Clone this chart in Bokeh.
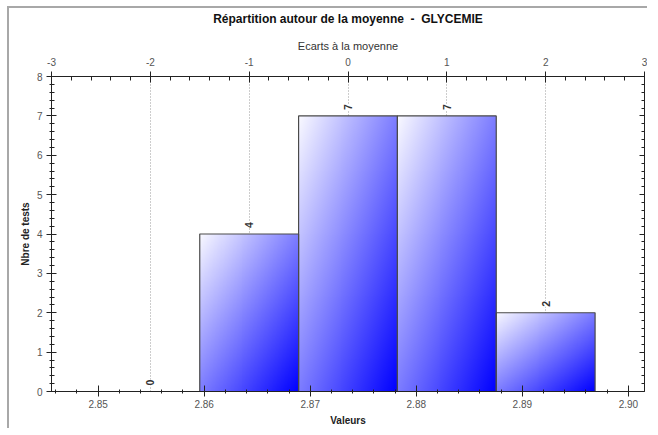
import numpy as np
from bokeh.plotting import figure
from bokeh.models import (Range1d, LinearAxis, Grid, FixedTicker,
                          ColumnDataSource, NumeralTickFormatter)
from bokeh.core.properties import value
from bokeh.embed import file_html
from bokeh.resources import INLINE

# ---- data ----
title_text = "Répartition autour de la moyenne \u00a0-\u00a0 GLYCEMIE"
sigma_k = [-2, -1, 0, 1, 2]          # écarts (en écarts-types)
counts = [0, 4, 7, 7, 2]             # nombre de tests
mean_val = 2.87356
sd_val = 0.00932
x_ticks = [2.85, 2.86, 2.87, 2.88, 2.89, 2.90]
sigma_ticks = [-3, -2, -1, 0, 1, 2, 3]
y_ticks = [0, 1, 2, 3, 4, 5, 6, 7, 8]

FONT = "Liberation Sans"
FW, FH = 593, 315

p = figure(frame_width=FW, frame_height=FH,
           x_range=Range1d(mean_val - 3 * sd_val, mean_val + 3 * sd_val),
           y_range=Range1d(0, 8),
           output_backend="svg", toolbar_location=None,
           x_axis_location=None, y_axis_location=None,
           min_border_left=42, min_border_right=3, min_border_top=40, min_border_bottom=34,
           title=title_text)
p.styles = {"border-left": "2px solid #a8a8a8", "border-top": "2px solid #a8a8a8",
            "margin-left": "7px", "margin-top": "6px"}
p.outline_line_color = None
p.background_fill_color = "white"
p.border_fill_color = "white"
p.extra_x_ranges = {"sigma": Range1d(-3, 3)}
# remove default grids
p.center = [r for r in p.center if not isinstance(r, Grid)]

p.title.align = "center"
p.title.text_font = FONT
p.title.text_font_size = "12px"
p.title.text_font_style = "bold"
p.title.text_color = "#111111"
p.title.standoff = 2
p.title.padding = dict(left=0, right=0, top=0, bottom=10)


def style_axis(ax):
    ax.axis_line_color = "#222222"
    ax.major_tick_line_color = "#222222"
    ax.minor_tick_line_color = "#222222"
    ax.major_label_text_font = FONT
    ax.major_label_text_font_size = "10px"
    ax.major_label_text_color = "#555555"
    ax.axis_label_text_font = FONT
    ax.axis_label_text_font_size = "10px"
    ax.axis_label_text_font_style = "bold"
    ax.axis_label_text_color = "#222222"


# bottom axis (values)
minor_x = [round(2.846 + 0.002 * i, 4) for i in range(28)]
bottom = LinearAxis(ticker=FixedTicker(ticks=x_ticks, minor_ticks=minor_x),
                    formatter=NumeralTickFormatter(format="0.00"),
                    axis_label="Valeurs")
style_axis(bottom)
bottom.major_tick_in = 6
bottom.major_tick_out = 5
bottom.minor_tick_in = 2
bottom.minor_tick_out = 2
bottom.major_label_standoff = 3
bottom.axis_label_standoff = 4
p.add_layout(bottom, "below")

# top axis (sigma)
top = LinearAxis(x_range_name="sigma",
                 ticker=FixedTicker(ticks=sigma_ticks,
                                    minor_ticks=[round(-3 + 0.2 * i, 2) for i in range(31)]),
                 formatter=NumeralTickFormatter(format="0"),
                 axis_label="Ecarts à la moyenne")
style_axis(top)
top.axis_label_text_font_style = "normal"
top.axis_label_text_font_size = "11px"
top.axis_label_text_color = "#333333"
top.major_tick_in = 6
top.major_tick_out = 5
top.minor_tick_in = 4
top.minor_tick_out = 0
top.major_label_standoff = 6
top.axis_label_standoff = 3
p.add_layout(top, "above")

# left axis (counts)
yminor = [round(0.2 * i, 2) for i in range(41)]
left = LinearAxis(ticker=FixedTicker(ticks=y_ticks, minor_ticks=yminor),
                  formatter=NumeralTickFormatter(format="0"),
                  axis_label="Nbre de tests")
style_axis(left)
left.major_tick_in = 5
left.major_tick_out = 5
left.minor_tick_in = 3
left.minor_tick_out = 2
left.major_label_standoff = 4
left.axis_label_standoff = 3
p.add_layout(left, "left")

right = LinearAxis(ticker=FixedTicker(ticks=y_ticks, minor_ticks=yminor))
style_axis(right)
right.major_label_text_color = None
right.major_label_standoff = 0
right.major_tick_in = 5
right.major_tick_out = 0
right.minor_tick_in = 3
right.minor_tick_out = 0
p.add_layout(right, "right")

# dotted grid at each sigma
grid = Grid(dimension=0,
            ticker=FixedTicker(ticks=[mean_val + k * sd_val for k in sigma_k]),
            grid_line_color="#9a9a9a", grid_line_dash="1 2", grid_line_width=1)
p.add_layout(grid)

# bars
bar_k = [k for k, c in zip(sigma_k, counts) if c > 0]
bar_c = [c for c in counts if c > 0]
lefts = [mean_val + (k - 0.5) * sd_val for k in bar_k]
rights = [mean_val + (k + 0.5) * sd_val for k in bar_k]

W, H = 100, 280
xs = np.linspace(0, 1, W)[None, :]
ys = np.linspace(0, 1, H)[:, None]
t = (xs + (1 - ys)) / 2.0
img = np.empty((H, W), dtype=np.uint32)
view = img.view(dtype=np.uint8).reshape((H, W, 4))
rg = np.clip(250 * (1 - t), 0, 255).astype(np.uint8)
view[..., 0] = rg
view[..., 1] = rg
view[..., 2] = 255
view[..., 3] = 255

img_src = ColumnDataSource(dict(image=[img] * len(bar_c), x=lefts, y=[0] * len(bar_c),
                                dw=[sd_val] * len(bar_c), dh=bar_c))
p.image_rgba(image="image", x="x", y="y", dw="dw", dh="dh", source=img_src)

p.quad(left=lefts, right=rights, bottom=0, top=bar_c,
       fill_alpha=0, line_color="#4a4a4a", line_width=1.2)

# count labels
lab_src = ColumnDataSource(dict(k=sigma_k, c=counts, lbl=[str(c) for c in counts]))
p.text(x="k", y="c", text="lbl", source=lab_src, x_range_name="sigma",
       angle=np.pi / 2, text_align="left", text_baseline="middle", y_offset=-6,
       text_font=value(FONT), text_font_size="10.5px", text_font_style="bold",
       text_color="#333333", background_fill_color="white")

open("out.html", "w").write(file_html(p, INLINE))
